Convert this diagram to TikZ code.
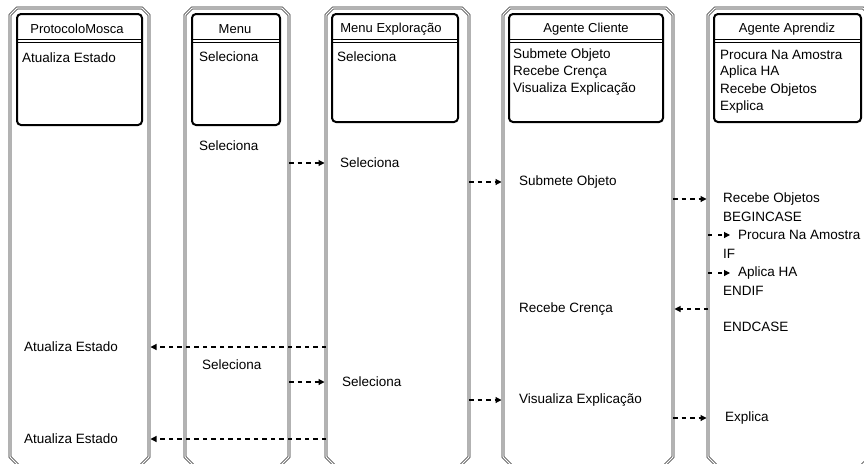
\documentclass[tikz,border=0pt]{standalone}
\usepackage{fontspec}
\setmainfont{Liberation Sans}
\usetikzlibrary{arrows.meta}
\begin{document}
\begin{tikzpicture}[x=1pt,y=-1pt,
  frame/.style={draw=black!85,line width=0.75pt,double=white,double distance=1.2pt},
  objbox/.style={draw=black,line width=2pt,rounded corners=4pt},
  sep/.style={draw=black,line width=0.9pt},
  lbl/.style={anchor=west,inner sep=0pt,font=\fontsize{13.5}{15}\selectfont},
  hdr/.style={inner sep=0pt,font=\fontsize{13}{15}\selectfont},
  msg/.style={line width=1.1pt,dash pattern=on 4.5pt off 4pt,shorten >=1.5pt,
              -{Triangle[length=6pt,width=6pt]}}]
  \fill[white] (0,0) rectangle (864,463);
  \useasboundingbox (0,0) rectangle (864,463);
  \clip (0,0) rectangle (864,463);

  % object columns: outer lifeline frame, object box, header separator
  \foreach \n/\L/\R/\iL/\iR/\iB in {1/10/149/17/142/125, 2/185/289/192/280/125,
      3/326/469/332/458/122, 4/503/673/509/663/122, 5/708/870/714/861/122} {
    \draw[frame] (\L,15) -- (\L+7,8) -- (\R-7,8) -- (\R,15) -- (\R,457)
      -- (\R-9,466) -- (\L+9,466) -- (\L,457) -- cycle;
    \draw[objbox] (\iL,14) rectangle (\iR,\iB);
    \draw[sep] (\iL,39) -- (\iR,39) (\iL,42.5) -- (\iR,42.5);
    \coordinate (L\n) at (\L,0);
    \coordinate (R\n) at (\R,0);
  }

  % headers
  \node[hdr] (h1) at (77,29) {ProtocoloMosca};
  \node[hdr] (h2) at (235,29) {Menu};
  \node[hdr] (h3) at (391,29) {Menu Exploração};
  \node[hdr] (h4) at (586,29) {Agente Cliente};
  \node[hdr] (h5) at (787,29) {Agente Aprendiz};

  % operations listed in the object boxes
  \node[lbl] (o1) at (22,58) {Atualiza Estado};
  \node[lbl] (o2) at (199,57) {Seleciona};
  \node[lbl] (o3) at (337,57) {Seleciona};
  \node[lbl] (o4a) at (513,55) {Submete Objeto};
  \node[lbl] (o4b) at (513,72) {Recebe Crença};
  \node[lbl] (o4c) at (513,89) {Visualiza Explicação};
  \node[lbl] (o5a) at (720,55) {Procura Na Amostra};
  \node[lbl] (o5b) at (720,72.5) {Aplica HA};
  \node[lbl] (o5c) at (720,90) {Recebe Objetos};
  \node[lbl] (o5d) at (720,107.5) {Explica};

  % first interaction
  \node[lbl] (m1) at (199,146) {Seleciona};
  \node[lbl] (e1) at (340,163) {Seleciona};
  \draw[msg] (R2 |- e1) -- (L3 |- e1);
  \node[lbl] (c1) at (519,182) {Submete Objeto};
  \draw[msg] (R3 |- c1) -- (L4 |- c1);
  \node[lbl] (a1) at (723,199) {Recebe Objetos};
  \draw[msg] (R4 |- a1) -- (L5 |- a1);
  \node[lbl] (a2) at (723,217) {BEGINCASE};
  \node[lbl] (a3) at (738,235) {Procura Na Amostra};
  \draw[msg,dash pattern=on 4pt off 6pt,shorten >=8pt] (L5 |- a3) -- (a3.west);
  \node[lbl] (a4) at (723,254) {IF};
  \node[lbl] (a5) at (738,273) {Aplica HA};
  \draw[msg,dash pattern=on 4pt off 6pt,shorten >=8pt] (L5 |- a5) -- (a5.west);
  \node[lbl] (a6) at (723,291) {ENDIF};
  \node[lbl] (c2) at (519,309) {Recebe Crença};
  \draw[msg] (L5 |- c2) -- (R4 |- c2);
  \node[lbl] (a7) at (723,327) {ENDCASE};
  \node[lbl] (p1) at (24,347) {Atualiza Estado};
  \draw[msg] (L3 |- p1) -- (R1 |- p1);

  % second interaction
  \node[lbl] (m2) at (202,365) {Seleciona};
  \node[lbl] (e2) at (342,382) {Seleciona};
  \draw[msg] (R2 |- e2) -- (L3 |- e2);
  \node[lbl] (c3) at (519,400) {Visualiza Explicação};
  \draw[msg] (R3 |- c3) -- (L4 |- c3);
  \node[lbl] (a8) at (725,418) {Explica};
  \draw[msg] (R4 |- a8) -- (L5 |- a8);
  \node[lbl] (p2) at (24,439) {Atualiza Estado};
  \draw[msg] (L3 |- p2) -- (R1 |- p2);
\end{tikzpicture}
\end{document}
